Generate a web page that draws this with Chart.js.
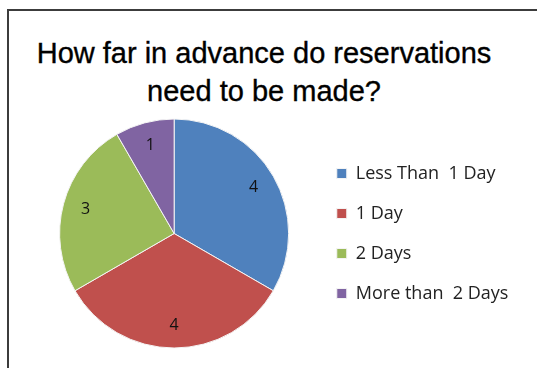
<!DOCTYPE html>
<html>
<head>
<meta charset="utf-8">
<script src="https://cdn.jsdelivr.net/npm/chart.js@4.4.1/dist/chart.umd.min.js"></script>
<style>
    html, body { margin: 0; padding: 0; background: #fff; }
    body { width: 537px; height: 368px; position: relative; overflow: hidden; }
    .frame {
        position: absolute; left: 7px; top: 9px; width: 560px; height: 400px;
        border-left: 2px solid #3c3c3c; border-top: 2px solid #3c3c3c;
    }
    .chart-title {
        position: absolute; left: 0; top: 35px; width: 528px;
        text-align: center; color: #000;
        font: 29px/37.7px "Liberation Sans", Arial, sans-serif;
        -webkit-text-stroke: 0.35px #000;
    }
    #chart-wrap { position: absolute; left: 0; top: 0; width: 537px; height: 368px; }
</style>
</head>
<body>
<div class="frame"></div>
<div class="chart-title" id="chart-title"></div>
<div id="chart-wrap"><canvas id="reservation-chart"></canvas></div>
<script>
document.addEventListener('DOMContentLoaded', () => {
    const chartTitle = ['How far in advance do reservations', 'need to be made?'];
    const categories = ['Less Than  1 Day', '1 Day', '2 Days', 'More than  2 Days'];
    const responses = [4, 4, 3, 1];
    const sliceColors = ['#4F81BD', '#C0504D', '#9BBB59', '#8064A2'];

    // title sits a little left of the plot centre, so it is set as page text
    const titleElement = document.getElementById('chart-title');
    chartTitle.forEach((line, i) => {
        if (i > 0) titleElement.appendChild(document.createElement('br'));
        titleElement.appendChild(document.createTextNode(line));
    });

    // Numbers inside the slices
    const sliceLabels = {
        id: 'sliceLabels',
        afterDatasetsDraw(chart) {
            const ctx = chart.ctx;
            const meta = chart.getDatasetMeta(0);
            ctx.save();
            ctx.font = '16px "Open Sans"';
            ctx.fillStyle = '#111';
            ctx.textAlign = 'center';
            ctx.textBaseline = 'middle';
            meta.data.forEach((arc, i) => {
                const p = arc.getProps(['x', 'y', 'startAngle', 'endAngle', 'outerRadius'], true);
                const mid = (p.startAngle + p.endAngle) / 2;
                const r = p.outerRadius * 0.8;
                ctx.fillText(String(chart.data.datasets[0].data[i]), p.x + Math.cos(mid) * r, p.y + Math.sin(mid) * r);
            });
            ctx.restore();
        }
    };

    const ctx = document.getElementById('reservation-chart').getContext('2d');
    new Chart(ctx, {
        type: 'pie',
        data: {
            labels: categories,
            datasets: [{
                data: responses,
                backgroundColor: sliceColors,
                borderColor: '#f4f4f4',
                borderWidth: 1
            }]
        },
        options: {
            responsive: true,
            maintainAspectRatio: false,
            animation: false,
            layout: {
                padding: { top: 118.5, left: 33.5, right: 18.6, bottom: 19.5 }
            },
            plugins: {
                legend: {
                    position: 'right',
                    fullSize: false,
                    labels: {
                        boxWidth: 10,
                        boxHeight: 10,
                        padding: 22,
                        color: '#222',
                        font: { family: '"Open Sans", sans-serif', size: 18 }
                    }
                },
                tooltip: { enabled: false }
            }
        },
        plugins: [sliceLabels]
    });
});
</script>
</body>
</html>
